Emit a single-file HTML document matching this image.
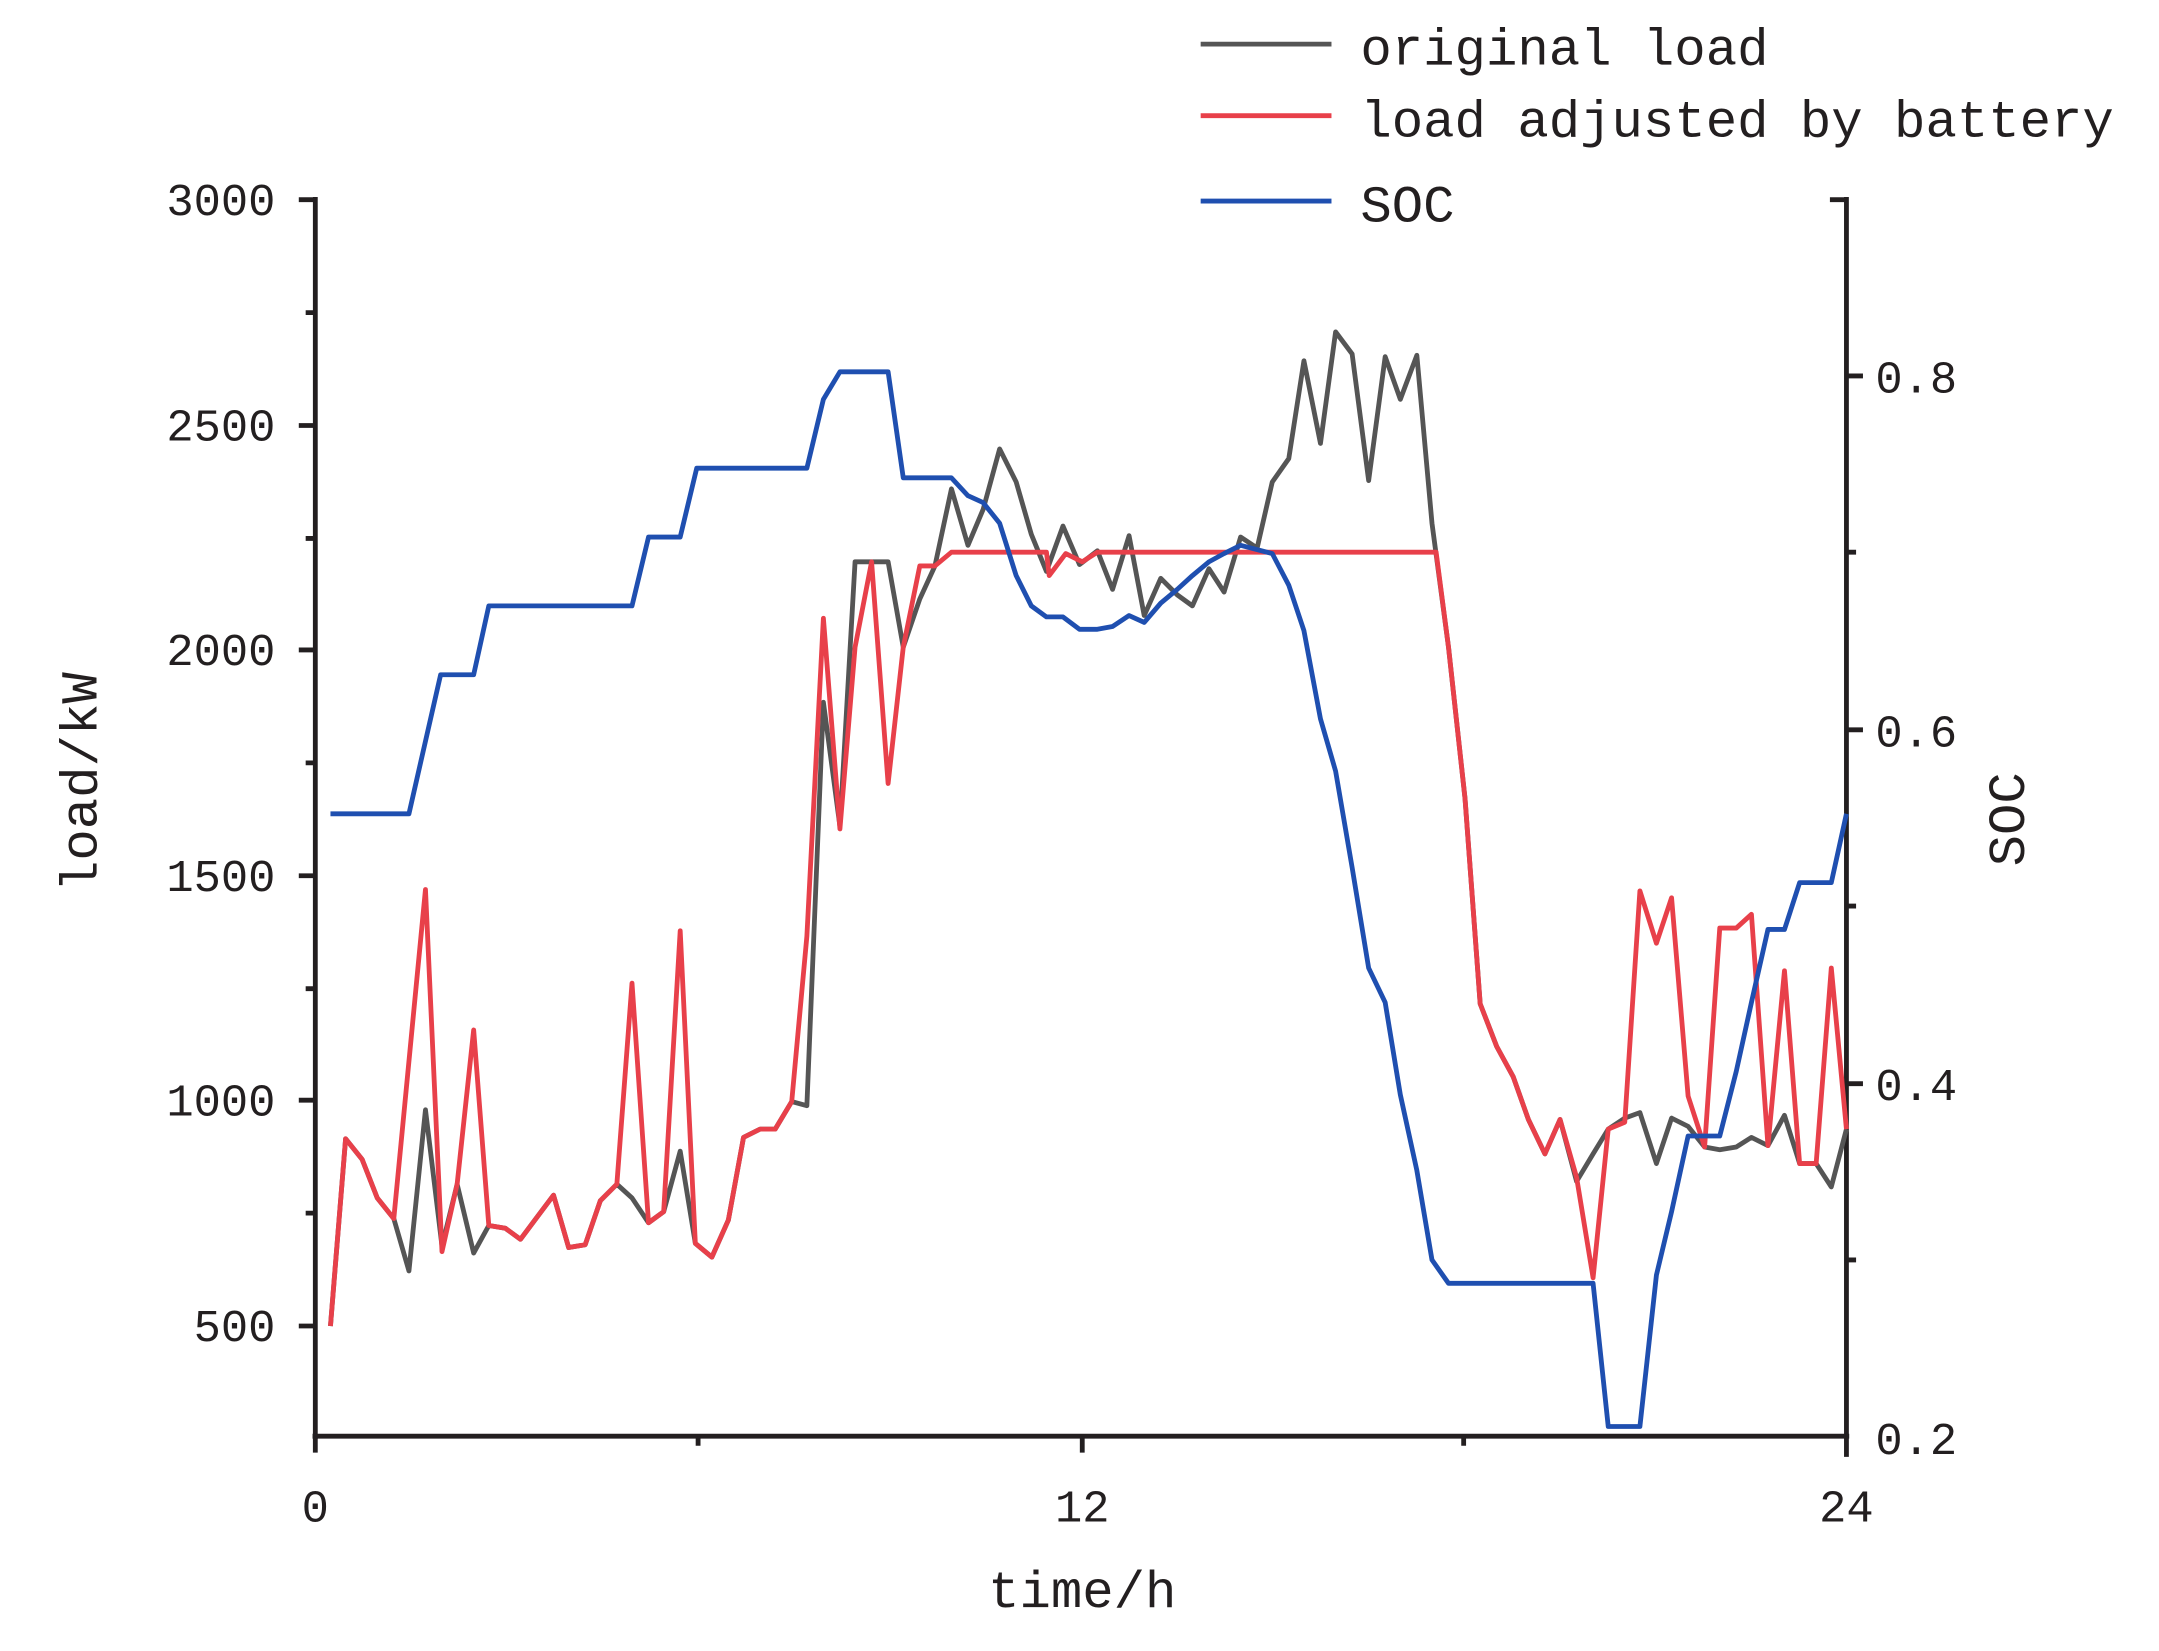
<!DOCTYPE html>
<html><head><style>html,body{margin:0;padding:0;background:#fff}svg{display:block}</style></head>
<body>
<svg width="2159" height="1651" viewBox="0 0 1568 1199" xmlns="http://www.w3.org/2000/svg" font-family="Liberation Mono, monospace" fill="#231f20">
<g stroke="#231f20" stroke-width="3.5" fill="none">
<line x1="229" y1="143" x2="229" y2="1045"/>
<line x1="1341" y1="143" x2="1341" y2="1058"/>
<line x1="227" y1="1043" x2="1343" y2="1043"/>
<path d="M229 145h-12M229 309h-12M229 472h-12M229 636h-12M229 799h-12M229 963h-12"/>
<path d="M229 227h-7M229 391h-7M229 554h-7M229 718h-7M229 881h-7"/>
<path d="M229 1043v12M786 1043v12M507 1043v7M1063 1043v7"/>
<path d="M1341 273h12M1341 530h12M1341 787h12M1341 401h7M1341 658h7M1341 915h7M1341 145h-12"/>
<line x1="872" y1="32" x2="967" y2="32" stroke="#555"/>
<line x1="872" y1="84" x2="967" y2="84" stroke="#e8404a"/>
<line x1="872" y1="146" x2="967" y2="146" stroke="#1f4fb0"/>
</g>
<g font-size="33">
<g text-anchor="end"><text x="200" y="156">3000</text><text x="200" y="320">2500</text><text x="200" y="483">2000</text><text x="200" y="647">1500</text><text x="200" y="810">1000</text><text x="200" y="974">500</text></g>
<text x="1362" y="285">0.8</text><text x="1362" y="542">0.6</text><text x="1362" y="799">0.4</text><text x="1362" y="1056">0.2</text>
<g text-anchor="middle"><text x="229" y="1105">0</text><text x="786" y="1105">12</text><text x="1341" y="1105">24</text></g>
</g>
<g font-size="38">
<text x="786" y="1167" text-anchor="middle">time/h</text>
<text transform="translate(70,568) rotate(-90)" text-anchor="middle">load/kW</text>
<text transform="translate(1470,595) rotate(-90)" text-anchor="middle">SOC</text>
<text x="988" y="47">original load</text>
<text x="988" y="99">load adjusted by battery</text>
<text x="988" y="161">SOC</text>
</g>
<g fill="none" stroke-width="3.5" stroke-linejoin="round">
<polyline stroke="#555" points="240,963 251,827 263,842 274,870 286,885 297,923 309,806 321,905 332,860 344,910 355,890 367,892 378,900 390,884 402,868 413,906 425,904 436,872 448,860 459,870 471,888 482,880 494,836 505,903 517,913 529,886 540,826 552,820 563,820 575,800 586,803 598,510 610,600 621,408 645,408 656,470 668,435 679,411 691,355 703,396 714,370 726,326 738,350 749,388 760,415 772,382 784,410 797,400 808,428 820,389 831,447 843,420 855,432 866,440 878,413 889,430 901,390 913,398 924,350 936,333 947,262 959,322 970,241 982,257 994,349 1006,259 1017,290 1029,258 1040,380 1052,470 1064,580 1075,729 1087,760 1099,782 1110,813 1122,838 1133,813 1145,858 1157,838 1168,820 1180,812 1191,808 1203,845 1214,812 1226,818 1238,833 1249,835 1261,833 1272,826 1284,832 1296,810 1307,845 1319,845 1330,862 1341,820"/>
<polyline stroke="#e8404a" points="240,963 251,827 263,842 274,870 286,885 309,646 321,909 332,860 344,748 355,890 367,892 378,900 390,884 402,868 413,906 425,904 436,872 448,860 459,714 471,888 482,880 494,676 505,903 517,913 529,886 540,826 552,820 563,820 575,800 586,680 598,449 610,602 621,470 633,408 645,569 656,470 668,411 679,411 691,401 760,401 762,418 774,402 786,408 797,401 1043,401 1052,470 1064,580 1075,729 1087,760 1099,782 1110,813 1122,838 1133,813 1145,855 1157,928 1168,820 1180,815 1191,647 1203,685 1214,652 1226,796 1238,833 1249,674 1261,674 1272,664 1284,832 1296,705 1307,845 1319,845 1330,703 1341,820"/>
<polyline stroke="#1f4fb0" points="240,591 297,591 320,490 344,490 355,440 459,440 471,390 494,390 506,340 586,340 598,290 610,270 645,270 656,347 691,347 703,360 714,365 726,380 738,418 749,440 760,448 772,448 784,457 797,457 808,455 820,447 831,452 843,438 855,428 866,418 878,408 889,402 901,396 924,402 936,425 947,458 959,522 970,560 982,630 994,703 1006,728 1017,795 1029,850 1040,915 1052,932 1157,932 1168,1036 1191,1036 1203,926 1214,880 1226,825 1249,825 1261,778 1272,728 1284,675 1296,675 1307,641 1330,641 1341,591"/>
</g>
</svg>
</body></html>
